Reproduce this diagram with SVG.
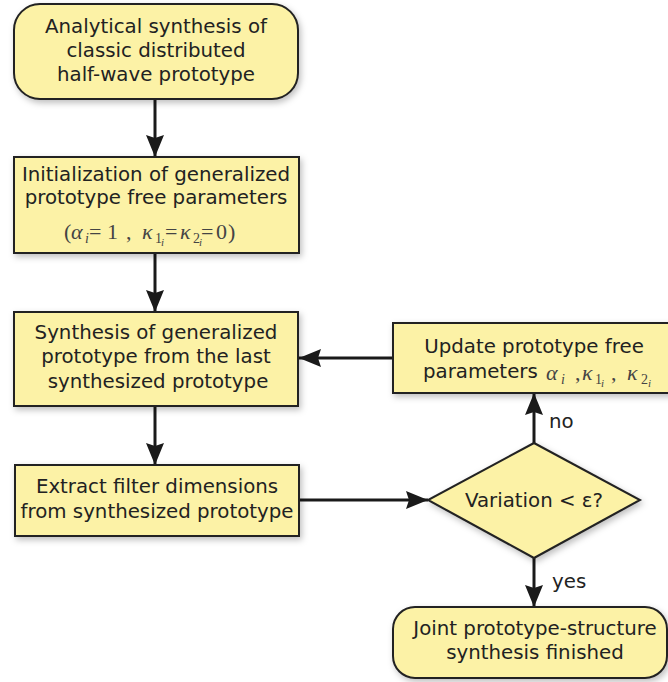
<svg xmlns="http://www.w3.org/2000/svg" width="668" height="682" viewBox="0 0 668 682">
<defs>
<filter id="sh" x="-10%" y="-10%" width="120%" height="130%">
<feDropShadow dx="2" dy="3" stdDeviation="3" flood-color="#000" flood-opacity="0.25"/>
</filter>
<marker id="ah" viewBox="0 0 22 18" refX="22" refY="9" markerWidth="22" markerHeight="18" markerUnits="userSpaceOnUse" orient="auto">
<path d="M0,0 L22,9 L0,18 L3,9 z" fill="#1a1a1a"/>
</marker>
<style>
.box{fill:#fcf2a6;stroke:#222;stroke-width:2;filter:url(#sh)}
.t{font-family:"DejaVu Sans",Verdana,sans-serif;font-size:19.8px;fill:#222;text-anchor:middle}
.m{font-family:"Liberation Serif","DejaVu Serif",serif;font-size:22px;fill:#444}
.mi{font-style:italic}
.s{font-size:14px}
.ss{font-size:11px}
.c{stroke:#1a1a1a;stroke-width:3;fill:none;marker-end:url(#ah)}
.lbl{font-family:"DejaVu Sans",Verdana,sans-serif;font-size:19.8px;fill:#222}
</style>
</defs>
<g id="connectors">
<line class="c" x1="155" y1="99" x2="155" y2="157"/>
<line class="c" x1="155" y1="253" x2="155" y2="312"/>
<line class="c" x1="155" y1="406" x2="155" y2="465"/>
<line class="c" x1="393" y1="358" x2="299" y2="358"/>
<line class="c" x1="300" y1="500" x2="428" y2="500"/>
<line class="c" x1="534" y1="443" x2="534" y2="393"/>
<line class="c" x1="534" y1="558" x2="534" y2="607"/>
<text class="lbl" x="549" y="428">no</text>
<text class="lbl" x="552" y="588">yes</text>
</g>
<g id="n1">
<rect class="box" x="14" y="4" width="284" height="95" rx="26" ry="26"/>
<text class="t" x="156" y="33">Analytical synthesis of</text>
<text class="t" x="156" y="57">classic distributed</text>
<text class="t" x="156" y="81">half-wave prototype</text>
</g>
<g id="n2">
<rect class="box" x="14" y="157" width="285" height="96"/>
<text class="t" x="156" y="181">Initialization of generalized</text>
<text class="t" x="156" y="204">prototype free parameters</text>
<text class="m" y="239"><tspan x="64">(</tspan><tspan class="mi" x="71">α</tspan><tspan class="mi s" x="85" dy="4">i</tspan><tspan x="89" dy="-4">=</tspan><tspan x="107">1</tspan><tspan x="126">,</tspan><tspan class="mi" x="142">κ</tspan><tspan class="s" x="155" dy="4">1</tspan><tspan class="mi ss" x="161" dy="3">i</tspan><tspan x="165" dy="-7">=</tspan><tspan class="mi" x="180">κ</tspan><tspan class="s" x="193" dy="4">2</tspan><tspan class="mi ss" x="199" dy="3">i</tspan><tspan x="201" dy="-7">=</tspan><tspan x="216">0</tspan><tspan x="228">)</tspan></text>
</g>
<g id="n3">
<rect class="box" x="14" y="312" width="284" height="94"/>
<text class="t" x="156" y="339">Synthesis of generalized</text>
<text class="t" x="156" y="363">prototype from the last</text>
<text class="t" x="158" y="388">synthesized prototype</text>
</g>
<g id="n4">
<rect class="box" x="15" y="465" width="284" height="71"/>
<text class="t" x="157" y="493">Extract filter dimensions</text>
<text class="t" x="157" y="518">from synthesized prototype</text>
</g>
<g id="n5">
<rect class="box" x="393" y="323" width="280" height="70"/>
<text class="t" x="534" y="353">Update prototype free</text>
<text class="t" x="423" y="378" style="text-anchor:start">parameters</text>
<text class="m" y="380"><tspan class="mi" x="546">α</tspan><tspan class="mi s" x="561" dy="4">i</tspan><tspan x="575" dy="-4">,</tspan><tspan class="mi" x="582">κ</tspan><tspan class="s" x="595" dy="4">1</tspan><tspan class="mi ss" x="601" dy="3">i</tspan><tspan x="611" dy="-7">,</tspan><tspan class="mi" x="627">κ</tspan><tspan class="s" x="641" dy="4">2</tspan><tspan class="mi ss" x="648" dy="3">i</tspan></text>
</g>
<g id="n6">
<polygon class="box" points="534,443 640,500 534,558 428,500"/>
<text class="t" x="534" y="507">Variation &lt; ε?</text>
</g>
<g id="n7">
<rect class="box" x="393" y="607" width="274" height="71" rx="22" ry="22"/>
<text class="t" x="535" y="635">Joint prototype-structure</text>
<text class="t" x="535" y="659">synthesis finished</text>
</g>
</svg>
